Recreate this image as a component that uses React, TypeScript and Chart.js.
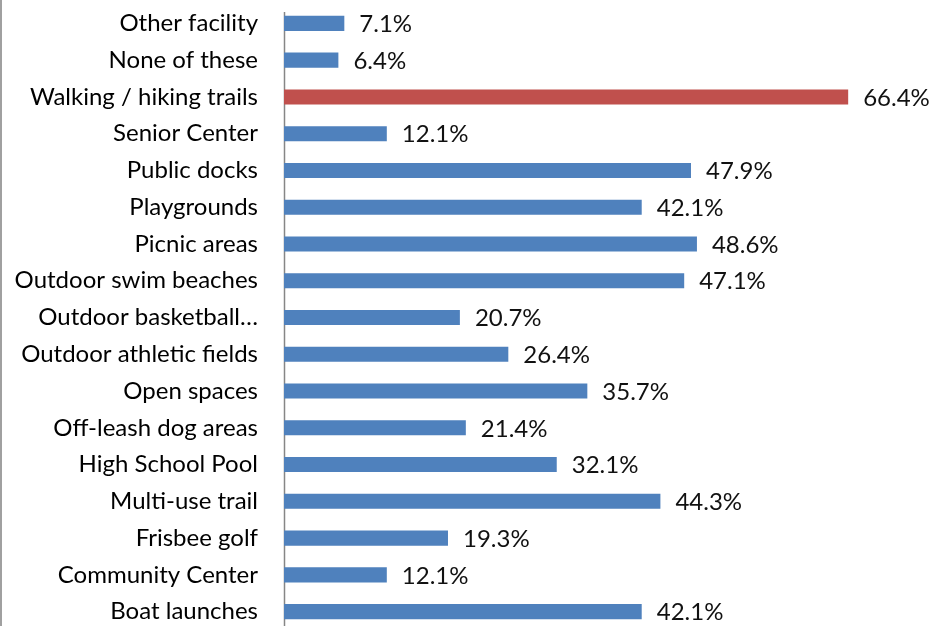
import React, { useEffect, useRef } from "react";
import { Chart, registerables } from "chart.js";

Chart.register(...registerables);

const categories: string[] = [
  "Other facility",
  "None of these",
  "Walking / hiking trails",
  "Senior Center",
  "Public docks",
  "Playgrounds",
  "Picnic areas",
  "Outdoor swim beaches",
  "Outdoor basketball…",
  "Outdoor athletic fields",
  "Open spaces",
  "Off-leash dog areas",
  "High School Pool",
  "Multi-use trail",
  "Frisbee golf",
  "Community Center",
  "Boat launches",
];

const values: number[] = [
  7.1, 6.4, 66.4, 12.1, 47.9, 42.1, 48.6, 47.1, 20.7, 26.4, 35.7, 21.4, 32.1, 44.3, 19.3, 12.1, 42.1,
];

const highlighted: string[] = ["Walking / hiking trails"];

const BLUE = "#4F81BD";
const RED = "#C0504D";
const FONT = "Lato";

const labelPlugin = {
  id: "valueLabels",
  afterDatasetsDraw(chart: any) {
    const ctx = chart.ctx;
    const meta = chart.getDatasetMeta(0);
    ctx.save();
    ctx.font = `24px ${FONT}`;
    ctx.fillStyle = "#111";
    ctx.textAlign = "left";
    ctx.textBaseline = "middle";
    meta.data.forEach((bar: any, i: number) => {
      const v = chart.data.datasets[0].data[i] as number;
      ctx.fillText(v.toFixed(1) + "%", bar.x + 15, bar.y + 1);
    });
    ctx.restore();
  },
};

const axisLinePlugin = {
  id: "axisLine",
  beforeDatasetsDraw(chart: any) {
    const { ctx, chartArea } = chart;
    ctx.save();
    ctx.strokeStyle = "#868686";
    ctx.lineWidth = 1.5;
    ctx.beginPath();
    ctx.moveTo(chartArea.left + 0.5, chartArea.top + 7);
    ctx.lineTo(chartArea.left + 0.5, chartArea.bottom);
    ctx.stroke();
    ctx.restore();
  },
};

export default function App() {
  const ref = useRef<HTMLCanvasElement | null>(null);
  useEffect(() => {
    if (!ref.current) return;
    const chart = new Chart(ref.current, {
      type: "bar",
      data: {
        labels: categories,
        datasets: [
          {
            data: values,
            backgroundColor: categories.map((c) => (highlighted.includes(c) ? RED : BLUE)),
            barPercentage: 0.41,
            categoryPercentage: 1,
          },
        ],
      },
      options: {
        indexAxis: "y",
        responsive: false,
        animation: false,
        layout: { padding: { top: 5, bottom: 10, left: 0, right: 0 } },
        plugins: { legend: { display: false }, tooltip: { enabled: false } },
        scales: {
          x: { display: false, min: 0, max: 76.5 },
          y: {
            grid: { display: false, drawTicks: false },
            border: { display: false },
            ticks: {
              color: "#000",
              padding: 26,
              font: { family: FONT, size: 24 },
            },
            afterFit(scale: any) {
              scale.width = 282;
              scale.paddingTop = 0;
              scale.paddingBottom = 0;
            },
          },
        },
      },
      plugins: [labelPlugin, axisLinePlugin],
    });
    return () => chart.destroy();
  }, []);
  return (
    <div
      style={{
        position: "fixed",
        top: 0,
        left: 0,
        width: 934,
        height: 626,
        overflow: "hidden",
        background: "#fff",
        borderLeft: "2px solid #a0a0a0",
        boxSizing: "border-box",
      }}
    >
      <canvas ref={ref} width={932} height={640} style={{ display: "block", width: 932, height: 640 }} />
    </div>
  );
}
